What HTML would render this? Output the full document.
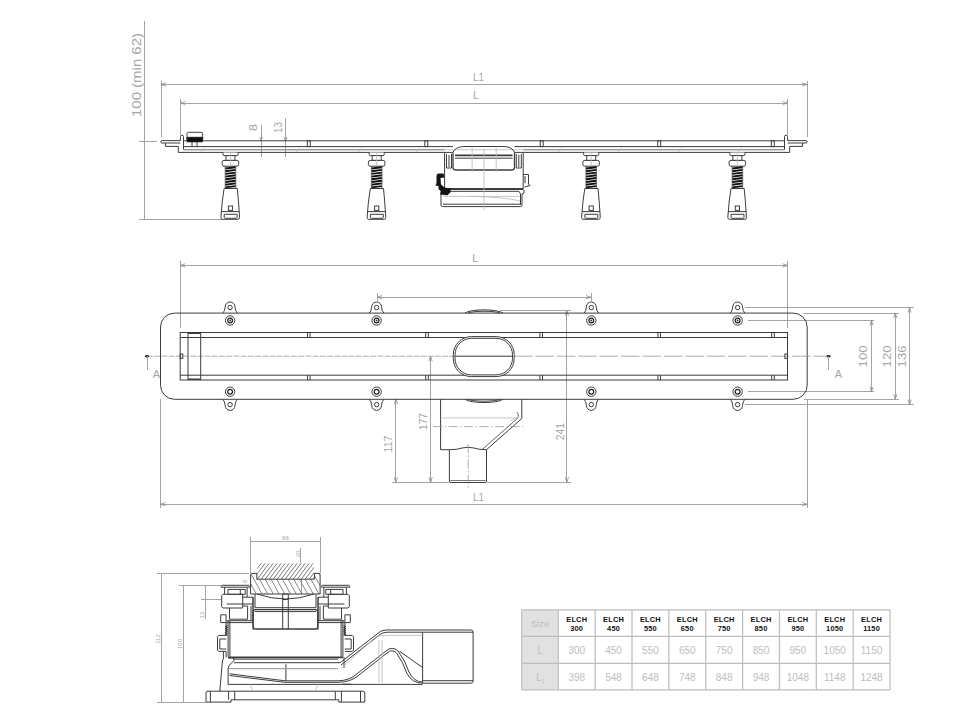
<!DOCTYPE html>
<html><head><meta charset="utf-8"><style>
html,body{margin:0;padding:0;background:#fff;}
body{width:980px;height:717px;overflow:hidden;}
svg{display:block;font-family:"Liberation Sans",sans-serif;}
.d{stroke:#3c3c3c;stroke-width:1;}
.m{stroke:#a4a4a4;stroke-width:1;shape-rendering:crispEdges;}
.ar{stroke:#8a8a8a;stroke-width:0.8;fill:none;}
.lg{stroke:#b8b8b8;stroke-width:0.8;}
.cl{stroke:#8c8c8c;stroke-width:0.7;stroke-dasharray:18.6 2.8;}
.cl3{stroke:#8c8c8c;stroke-width:0.7;stroke-dasharray:6 1.2;}
.cl2{stroke:#8c8c8c;stroke-width:0.7;stroke-dasharray:9 2.5 1.5 2.5;}
.t{fill:#a6a6a6;}
.tt{fill:#bdbdbd;}
.hb{fill:#111;font-weight:bold;font-size:7.4px;letter-spacing:0.2px;}
</style></head><body>
<svg width="980" height="717" viewBox="0 0 980 717">
<g class="m">
<line x1="144.6" y1="21" x2="144.6" y2="219.5"/>
<line x1="139" y1="141" x2="157" y2="141"/>
<line x1="139" y1="219.5" x2="222" y2="219.5"/>
<line x1="161" y1="84.5" x2="807" y2="84.5"/>
<line x1="161" y1="80.5" x2="161" y2="137"/>
<line x1="807" y1="80.5" x2="807" y2="137"/>
<line x1="180.5" y1="103" x2="787.5" y2="103"/>
<line x1="180.5" y1="99" x2="180.5" y2="135"/>
<line x1="787.5" y1="99" x2="787.5" y2="135"/>
<line x1="261" y1="124.5" x2="261" y2="157"/>
<line x1="285.6" y1="117.5" x2="285.6" y2="157"/>
</g>
<g class="ar">
<path d="M161,84.5 l5,-1.6 M161,84.5 l5,1.6"/>
<path d="M807,84.5 l-5,-1.6 M807,84.5 l-5,1.6"/>
<path d="M180.5,103 l5,-1.6 M180.5,103 l5,1.6"/>
<path d="M787.5,103 l-5,-1.6 M787.5,103 l-5,1.6"/>
<path d="M261,141 l-1.4,-4 M261,141 l1.4,-4"/>
<path d="M285.6,141 l-1.4,-4 M285.6,141 l1.4,-4"/>
</g>
<text class="t" x="0" y="0" font-size="12.2" transform="translate(141.4,117) rotate(-90)" textLength="84" lengthAdjust="spacingAndGlyphs">100 (min 62)</text>
<text class="t" x="473" y="80.8" font-size="10.8" textLength="11" lengthAdjust="spacingAndGlyphs">L1</text>
<text class="t" x="473" y="98.8" font-size="10.8">L</text>
<text class="t" font-size="10.5" transform="translate(257.2,131) rotate(-90)" textLength="7" lengthAdjust="spacingAndGlyphs">8</text>
<text class="t" font-size="10.5" transform="translate(282,133) rotate(-90)" textLength="11" lengthAdjust="spacingAndGlyphs">13</text>
<g class="d">
<line x1="183.5" y1="140.8" x2="784.5" y2="140.8"/>
<line x1="183.5" y1="146.6" x2="453" y2="146.6"/>
<line x1="514.5" y1="146.6" x2="784.5" y2="146.6"/>
<line x1="178.3" y1="152.4" x2="444.6" y2="152.4"/>
<line x1="523.2" y1="152.4" x2="789.7" y2="152.4"/>
<path d="M178.3,152.4 V146.4 H165.4 V143 H162 Q160.8,143 160.8,141.8 Q160.8,140.6 162,140.6 H180.4 V136.5 Q180.4,135.3 182,135.3 Q183.5,135.3 183.5,136.5 V149.7 H444.6" fill="none"/>
<path d="M789.7,152.4 V146.4 H802.6 V143 H806 Q807.2,143 807.2,141.8 Q807.2,140.6 806,140.6 H787.6 V136.5 Q787.6,135.3 786,135.3 Q784.5,135.3 784.5,136.5 V149.7 H523.4" fill="none"/>
</g>
<path class="d" fill="none" d="M165.4,143 H180.4 M802.6,143 H787.6"/>
<line class="lg" x1="183.5" y1="149.7" x2="784.5" y2="149.7"/>
<rect class="d" x="307.3" y="140.8" width="3" height="5.8" fill="none"/>
<rect class="d" x="424.8" y="140.8" width="3" height="5.8" fill="none"/>
<rect class="d" x="540.2" y="140.8" width="3" height="5.8" fill="none"/>
<rect class="d" x="657.7" y="140.8" width="3" height="5.8" fill="none"/>
<rect class="d" x="771.3" y="140.8" width="3" height="5.8" fill="none"/>
<line class="lg" x1="201" y1="152" x2="205" y2="147.5"/>
<line class="lg" x1="296" y1="152" x2="300" y2="147.5"/>
<line class="lg" x1="358" y1="152" x2="362" y2="147.5"/>
<line class="lg" x1="416" y1="152" x2="420" y2="147.5"/>
<line class="lg" x1="618" y1="152" x2="622" y2="147.5"/>
<line class="lg" x1="678" y1="152" x2="682" y2="147.5"/>
<line class="lg" x1="738" y1="152" x2="742" y2="147.5"/>
<line class="lg" x1="558" y1="152" x2="562" y2="147.5"/>
<rect class="d" x="187" y="132.3" width="15.6" height="5" rx="1.5" fill="#fff"/>
<path d="M186,137.3 H203.5 L202.5,142.2 H187 Z" fill="#111"/>
<path class="d" d="M192,142 V146.4 M197,142 V146.4" fill="none"/>
<g class="d" fill="#fff">
<path d="M223,152.4 V154.6 Q223,155.6 224,155.6 H237 Q238,155.6 238,154.6 V152.4"/>
<rect x="226" y="155.6" width="9" height="4.8"/>
<rect x="222.2" y="160.4" width="16.5" height="5.8" rx="1.8"/>
<path d="M224.1,188.5 H237.3 Q238.5,200 239.5,216 V217.6 Q239.5,219.3 238,219.3 H222.5 Q221,219.3 221,217.6 V216 Q222.1,200 224.1,188.5 Z"/>
<path d="M224.2,214.3 H237.1 V217.4 Q237.1,218.3 236.1,218.3 H225.2 Q224.2,218.3 224.2,217.4 Z"/>
<rect x="228.4" y="206" width="4.2" height="4.4"/>
<line x1="221.4" y1="211.6" x2="239.2" y2="211.6"/>
</g>
<path d="M225.3,168.5 L235.7,167.2 M225.3,171.2 L235.7,169.9 M225.3,173.9 L235.7,172.6 M225.3,176.6 L235.7,175.3 M225.3,179.3 L235.7,178 M225.3,182 L235.7,180.7 M225.3,184.7 L235.7,183.4 M225.3,187.4 L235.7,186.1" stroke="#111" stroke-width="1.9" fill="none"/>
<path d="M225.2,166 V188 M235.8,166 V188" stroke="#444" stroke-width="0.7"/>
<line class="lg" x1="230.5" y1="152.5" x2="230.5" y2="166" stroke-width="0.5"/>
<g class="d" fill="#fff">
<path d="M369.2,152.4 V154.6 Q369.2,155.6 370.2,155.6 H383.2 Q384.2,155.6 384.2,154.6 V152.4"/>
<rect x="372.2" y="155.6" width="9" height="4.8"/>
<rect x="368.4" y="160.4" width="16.5" height="5.8" rx="1.8"/>
<path d="M370.3,188.5 H383.5 Q384.7,200 385.7,216 V217.6 Q385.7,219.3 384.2,219.3 H368.7 Q367.2,219.3 367.2,217.6 V216 Q368.3,200 370.3,188.5 Z"/>
<path d="M370.4,214.3 H383.3 V217.4 Q383.3,218.3 382.3,218.3 H371.4 Q370.4,218.3 370.4,217.4 Z"/>
<rect x="374.6" y="206" width="4.2" height="4.4"/>
<line x1="367.6" y1="211.6" x2="385.4" y2="211.6"/>
</g>
<path d="M371.5,168.5 L381.9,167.2 M371.5,171.2 L381.9,169.9 M371.5,173.9 L381.9,172.6 M371.5,176.6 L381.9,175.3 M371.5,179.3 L381.9,178 M371.5,182 L381.9,180.7 M371.5,184.7 L381.9,183.4 M371.5,187.4 L381.9,186.1" stroke="#111" stroke-width="1.9" fill="none"/>
<path d="M371.4,166 V188 M382,166 V188" stroke="#444" stroke-width="0.7"/>
<line class="lg" x1="376.7" y1="152.5" x2="376.7" y2="166" stroke-width="0.5"/>
<g class="d" fill="#fff">
<path d="M583.7,152.4 V154.6 Q583.7,155.6 584.7,155.6 H597.7 Q598.7,155.6 598.7,154.6 V152.4"/>
<rect x="586.7" y="155.6" width="9" height="4.8"/>
<rect x="582.9" y="160.4" width="16.5" height="5.8" rx="1.8"/>
<path d="M584.8,188.5 H598 Q599.2,200 600.2,216 V217.6 Q600.2,219.3 598.7,219.3 H583.2 Q581.7,219.3 581.7,217.6 V216 Q582.8,200 584.8,188.5 Z"/>
<path d="M584.9,214.3 H597.8 V217.4 Q597.8,218.3 596.8,218.3 H585.9 Q584.9,218.3 584.9,217.4 Z"/>
<rect x="589.1" y="206" width="4.2" height="4.4"/>
<line x1="582.1" y1="211.6" x2="599.9" y2="211.6"/>
</g>
<path d="M586,168.5 L596.4,167.2 M586,171.2 L596.4,169.9 M586,173.9 L596.4,172.6 M586,176.6 L596.4,175.3 M586,179.3 L596.4,178 M586,182 L596.4,180.7 M586,184.7 L596.4,183.4 M586,187.4 L596.4,186.1" stroke="#111" stroke-width="1.9" fill="none"/>
<path d="M585.9,166 V188 M596.5,166 V188" stroke="#444" stroke-width="0.7"/>
<line class="lg" x1="591.2" y1="152.5" x2="591.2" y2="166" stroke-width="0.5"/>
<g class="d" fill="#fff">
<path d="M729.9,152.4 V154.6 Q729.9,155.6 730.9,155.6 H743.9 Q744.9,155.6 744.9,154.6 V152.4"/>
<rect x="732.9" y="155.6" width="9" height="4.8"/>
<rect x="729.1" y="160.4" width="16.5" height="5.8" rx="1.8"/>
<path d="M731,188.5 H744.2 Q745.4,200 746.4,216 V217.6 Q746.4,219.3 744.9,219.3 H729.4 Q727.9,219.3 727.9,217.6 V216 Q729,200 731,188.5 Z"/>
<path d="M731.1,214.3 H744 V217.4 Q744,218.3 743,218.3 H732.1 Q731.1,218.3 731.1,217.4 Z"/>
<rect x="735.3" y="206" width="4.2" height="4.4"/>
<line x1="728.3" y1="211.6" x2="746.1" y2="211.6"/>
</g>
<path d="M732.2,168.5 L742.6,167.2 M732.2,171.2 L742.6,169.9 M732.2,173.9 L742.6,172.6 M732.2,176.6 L742.6,175.3 M732.2,179.3 L742.6,178 M732.2,182 L742.6,180.7 M732.2,184.7 L742.6,183.4 M732.2,187.4 L742.6,186.1" stroke="#111" stroke-width="1.9" fill="none"/>
<path d="M732.1,166 V188 M742.7,166 V188" stroke="#444" stroke-width="0.7"/>
<line class="lg" x1="737.4" y1="152.5" x2="737.4" y2="166" stroke-width="0.5"/>
<g class="d" fill="none">
<path d="M453,152.4 Q455,147 463.7,146.5 H504 Q512.5,147 514.5,152.4"/>
<path d="M444.6,152.4 V189 M523.2,152.4 V189"/>
<path d="M444.6,152.4 H453 M514.5,152.4 H523.2"/>
<path d="M446.5,154 V168 H451.5 V154 M449,155 V167"/>
<path d="M521.3,154 V168 H516.3 V154 M518.8,155 V167"/>
<path d="M453,152.4 V167.5 Q453,170 456,170 H511.5 Q514.5,170 514.5,167.5 V152.4" stroke-width="1.3"/>
<path d="M455,155.4 H512.5" stroke-width="1.6"/><path d="M455,158.2 H512.5" />
<path d="M444.6,189 H523.2" stroke-width="1.8"/>
<path d="M441,191.3 V205 Q441,206.6 442.5,206.6 H520.5 Q522,206.6 522,205 V194 L524,193 V190.5 H523.2"/>
<path d="M441,191.3 H519 L520.5,194 V205"/>
<path d="M443,204.2 H520"/>
<path d="M523.2,174.5 H528.5 V184 L530,185.5 L524.5,187 "/>
<path d="M525,176 V183"/>
</g>
<path class="lg" d="M443,196.4 H520 M472.1,146.5 V172 M496.2,146.5 V172 M483.9,149 V210" fill="none"/>
<path class="lg" d="M470,196.4 Q505,197 520,201" fill="none"/>
<path d="M443.5,173.5 H438.5 Q436.5,173.5 436.5,176 V183 L435.5,185.5 L438.5,186 V189 L441,191.5 L440,194.5 L447.5,195.3 L450.8,192 L450.3,188.6 L444.5,187.5 L441,184.5 L440.5,178 L444.5,177.5 Z" fill="#141414"/>
<g class="m">
<line x1="180.2" y1="265.4" x2="787.5" y2="265.4"/>
<line x1="180.2" y1="261" x2="180.2" y2="328"/>
<line x1="787.5" y1="261" x2="787.5" y2="328"/>
<line x1="377" y1="297.2" x2="591" y2="297.2"/>
<line x1="377" y1="293" x2="377" y2="301"/>
<line x1="591" y1="293" x2="591" y2="301"/>
<line x1="160.5" y1="504.2" x2="807.2" y2="504.2"/>
<line x1="160.5" y1="399.3" x2="160.5" y2="508"/>
<line x1="807.2" y1="399.3" x2="807.2" y2="508"/>
<line x1="566.9" y1="310.8" x2="566.9" y2="482.3"/>
<line x1="499.5" y1="310.8" x2="570.8" y2="310.8"/>
<line x1="430.6" y1="356.2" x2="430.6" y2="482.3"/>
<line x1="395.9" y1="399.3" x2="395.9" y2="482.3"/>
<line x1="392" y1="482.3" x2="449" y2="482.3"/>
<line x1="487" y1="482.3" x2="571" y2="482.3"/>
<line x1="747.9" y1="320.4" x2="874.3" y2="320.4"/>
<line x1="747.9" y1="391.8" x2="874.3" y2="391.8"/>
<line x1="871.5" y1="320.4" x2="871.5" y2="391.8"/>
<line x1="803.6" y1="313.1" x2="899" y2="313.1"/>
<line x1="803.6" y1="399.3" x2="899" y2="399.3"/>
<line x1="895.3" y1="313.1" x2="895.3" y2="399.3"/>
<line x1="745.3" y1="307.6" x2="913.9" y2="307.6"/>
<line x1="745.3" y1="404.6" x2="913.9" y2="404.6"/>
<line x1="909.6" y1="307.6" x2="909.6" y2="404.6"/>
</g>
<path class="ar" d="M180.2,265.4 l5,-1.6 M180.2,265.4 l5,1.6 M787.5,265.4 l-5,-1.6 M787.5,265.4 l-5,1.6 M160.5,504.2 l5,-1.6 M160.5,504.2 l5,1.6 M807.2,504.2 l-5,-1.6 M807.2,504.2 l-5,1.6 M377,297.2 l5,-1.6 M377,297.2 l5,1.6 M591,297.2 l-5,-1.6 M591,297.2 l-5,1.6 M566.9,310.8 l-1.6,5 M566.9,310.8 l1.6,5 M566.9,482.3 l-1.6,-5 M566.9,482.3 l1.6,-5 M430.6,356.2 l-1.6,5 M430.6,356.2 l1.6,5 M430.6,482.3 l-1.6,-5 M430.6,482.3 l1.6,-5 M395.9,399.3 l-1.6,5 M395.9,399.3 l1.6,5 M395.9,482.3 l-1.6,-5 M395.9,482.3 l1.6,-5 M871.5,320.4 l-1.6,5 M871.5,320.4 l1.6,5 M871.5,391.8 l-1.6,-5 M871.5,391.8 l1.6,-5 M895.3,313.1 l-1.6,5 M895.3,313.1 l1.6,5 M895.3,399.3 l-1.6,-5 M895.3,399.3 l1.6,-5 M909.6,307.6 l-1.6,5 M909.6,307.6 l1.6,5 M909.6,404.6 l-1.6,-5 M909.6,404.6 l1.6,-5"/>
<text class="t" x="472.2" y="262" font-size="10.8">L</text>
<text class="t" x="473" y="500.5" font-size="10.8" textLength="11" lengthAdjust="spacingAndGlyphs">L1</text>
<text class="t" font-size="11" text-anchor="middle" transform="translate(391.8,444) rotate(-90)" textLength="17" lengthAdjust="spacingAndGlyphs">117</text>
<text class="t" font-size="11" text-anchor="middle" transform="translate(427.3,421.5) rotate(-90)" textLength="17" lengthAdjust="spacingAndGlyphs">177</text>
<text class="t" font-size="11" text-anchor="middle" transform="translate(563.6,431.7) rotate(-90)" textLength="17" lengthAdjust="spacingAndGlyphs">241</text>
<text class="t" font-size="11" text-anchor="middle" transform="translate(867,356.4) rotate(-90)" textLength="22" lengthAdjust="spacingAndGlyphs">100</text>
<text class="t" font-size="11" text-anchor="middle" transform="translate(890.7,356.4) rotate(-90)" textLength="22" lengthAdjust="spacingAndGlyphs">120</text>
<text class="t" font-size="11" text-anchor="middle" transform="translate(905.7,356.4) rotate(-90)" textLength="22" lengthAdjust="spacingAndGlyphs">136</text>
<rect class="d" x="160.5" y="313.1" width="646.7" height="86.2" rx="14" fill="none"/>
<line class="cl3" x1="147" y1="356.2" x2="454" y2="356.2"/>
<line class="cl" x1="514" y1="356.2" x2="828.6" y2="356.2"/>
<g class="d" fill="none">
<rect x="180.2" y="332.5" width="607.3" height="47.5"/>
<path d="M180.2,337.5 H787.5 M180.2,375.2 H787.5"/>
<path d="M188,332.5 V380 M200.7,332.5 V380"/>
<path d="M188,333.2 H200.7 M188,379.3 H200.7" stroke-width="1.6"/>
<rect x="180.2" y="354" width="2.6" height="4.4"/>
<rect x="784.9" y="354" width="2.6" height="4.4"/>
</g>
<path class="d" d="M307.5,332.5 V337.5 M310.1,332.5 V337.5 M307.5,375.2 V380 M310.1,375.2 V380 M425.7,332.5 V337.5 M428.3,332.5 V337.5 M425.7,375.2 V380 M428.3,375.2 V380 M539.9,332.5 V337.5 M542.5,332.5 V337.5 M539.9,375.2 V380 M542.5,375.2 V380 M657.9,332.5 V337.5 M660.5,332.5 V337.5 M657.9,375.2 V380 M660.5,375.2 V380 M771.7,332.5 V337.5 M774.3,332.5 V337.5 M771.7,375.2 V380 M774.3,375.2 V380"/>
<rect class="d" x="453.3" y="336.6" width="60.9" height="40" rx="18" fill="#fff"/>
<rect class="d" x="455" y="338.3" width="57.5" height="36.6" rx="16.5" fill="none"/>
<line class="d" x1="455" y1="356.2" x2="512.5" y2="356.2" stroke-width="0.8"/>
<path class="d" fill="none" d="M465,313.1 C470,308.8 498,308.8 503,313.1 M468,313.1 C473,310.6 495,310.6 500,313.1"/>
<path class="d" fill="none" d="M465,399.3 C470,403.6 498,403.6 503,399.3 M468,399.3 C473,401.8 495,401.8 500,399.3"/>
<path class="d" fill="none" d="M222.8,313.1 Q224.9,311.3 225.2,306.9 A4.9,4.9 0 0 1 235,306.9 Q235.3,311.3 237.4,313.1"/><circle class="d" cx="230.1" cy="307.6" r="2.2" fill="none" stroke-width="1.1"/>
<path class="d" fill="none" d="M222.8,399.3 Q224.9,401.1 225.2,405.5 A4.9,4.9 0 0 0 235,405.5 Q235.3,401.1 237.4,399.3"/><circle class="d" cx="230.1" cy="404.6" r="2.2" fill="none" stroke-width="1.1"/>
<circle class="d" cx="230.1" cy="320.5" r="4.7" fill="none"/><circle cx="230.1" cy="320.5" r="2.4" fill="none" stroke="#222" stroke-width="1.2"/><circle cx="230.1" cy="320.5" r="0.9" fill="#333"/>
<circle class="d" cx="230.1" cy="391.7" r="4.7" fill="none"/><circle cx="230.1" cy="391.7" r="2.4" fill="none" stroke="#222" stroke-width="1.2"/>
<path class="d" fill="none" d="M369.3,313.1 Q371.4,311.3 371.7,306.9 A4.9,4.9 0 0 1 381.5,306.9 Q381.8,311.3 383.9,313.1"/><circle class="d" cx="376.6" cy="307.6" r="2.2" fill="none" stroke-width="1.1"/>
<path class="d" fill="none" d="M369.3,399.3 Q371.4,401.1 371.7,405.5 A4.9,4.9 0 0 0 381.5,405.5 Q381.8,401.1 383.9,399.3"/><circle class="d" cx="376.6" cy="404.6" r="2.2" fill="none" stroke-width="1.1"/>
<circle class="d" cx="376.6" cy="320.5" r="4.7" fill="none"/><circle cx="376.6" cy="320.5" r="2.4" fill="none" stroke="#222" stroke-width="1.2"/><circle cx="376.6" cy="320.5" r="0.9" fill="#333"/>
<circle class="d" cx="376.6" cy="391.7" r="4.7" fill="none"/><circle cx="376.6" cy="391.7" r="2.4" fill="none" stroke="#222" stroke-width="1.2"/>
<path class="d" fill="none" d="M584,313.1 Q586.1,311.3 586.4,306.9 A4.9,4.9 0 0 1 596.2,306.9 Q596.5,311.3 598.6,313.1"/><circle class="d" cx="591.3" cy="307.6" r="2.2" fill="none" stroke-width="1.1"/>
<path class="d" fill="none" d="M584,399.3 Q586.1,401.1 586.4,405.5 A4.9,4.9 0 0 0 596.2,405.5 Q596.5,401.1 598.6,399.3"/><circle class="d" cx="591.3" cy="404.6" r="2.2" fill="none" stroke-width="1.1"/>
<circle class="d" cx="591.3" cy="320.5" r="4.7" fill="none"/><circle cx="591.3" cy="320.5" r="2.4" fill="none" stroke="#222" stroke-width="1.2"/><circle cx="591.3" cy="320.5" r="0.9" fill="#333"/>
<circle class="d" cx="591.3" cy="391.7" r="4.7" fill="none"/><circle cx="591.3" cy="391.7" r="2.4" fill="none" stroke="#222" stroke-width="1.2"/>
<path class="d" fill="none" d="M730.3,313.1 Q732.4,311.3 732.7,306.9 A4.9,4.9 0 0 1 742.5,306.9 Q742.8,311.3 744.9,313.1"/><circle class="d" cx="737.6" cy="307.6" r="2.2" fill="none" stroke-width="1.1"/>
<path class="d" fill="none" d="M730.3,399.3 Q732.4,401.1 732.7,405.5 A4.9,4.9 0 0 0 742.5,405.5 Q742.8,401.1 744.9,399.3"/><circle class="d" cx="737.6" cy="404.6" r="2.2" fill="none" stroke-width="1.1"/>
<circle class="d" cx="737.6" cy="320.5" r="4.7" fill="none"/><circle cx="737.6" cy="320.5" r="2.4" fill="none" stroke="#222" stroke-width="1.2"/><circle cx="737.6" cy="320.5" r="0.9" fill="#333"/>
<circle class="d" cx="737.6" cy="391.7" r="4.7" fill="none"/><circle cx="737.6" cy="391.7" r="2.4" fill="none" stroke="#222" stroke-width="1.2"/>
<ellipse cx="147" cy="356.2" rx="2.1" ry="1.3" fill="#222"/>
<line class="m" x1="147" y1="356.2" x2="147" y2="370"/>
<text class="t" x="156.3" y="378.4" font-size="11" text-anchor="middle">A</text>
<ellipse cx="828.6" cy="356.2" rx="2.1" ry="1.3" fill="#222"/>
<line class="m" x1="828.6" y1="356.2" x2="828.6" y2="370"/>
<text class="t" x="838.3" y="378.4" font-size="11" text-anchor="middle">A</text>
<g class="d" fill="none">
<path d="M440.6,399.3 V449.7 H449.4 M486.5,449.7 L521.8,418.5 V399.3"/>
<path d="M449.4,449.7 Q458,449.7 462,448 Q468,446.5 474,448 Q478,449.7 486.5,449.7"/>
<path d="M449.4,449.7 V481 Q449.4,482.5 451,482.5 H485 Q486.5,482.5 486.5,481 V449.7"/>
<path d="M450.5,480.5 H485.5" stroke-width="0.7"/>
<path d="M482,449.7 L516.8,419 Q519.5,416 518,413.5 L516.5,412.5" stroke-width="0.8"/>
</g>
<path class="lg" d="M440.6,417.9 H517 M510,421 L519,417" fill="none"/>
<line class="cl2" x1="433" y1="426.6" x2="523" y2="426.6"/>
<line class="cl2" x1="468.2" y1="444" x2="468.2" y2="490"/>
<g class="m">
<line x1="161" y1="573" x2="161" y2="702"/>
<line x1="157" y1="573" x2="249" y2="573"/>
<line x1="183.1" y1="585.5" x2="183.1" y2="702"/>
<line x1="179" y1="585.5" x2="221" y2="585.5"/>
<line x1="205.3" y1="585.5" x2="205.3" y2="618.6"/>
<line x1="201" y1="599" x2="221" y2="599"/>
<line x1="157" y1="702" x2="206" y2="702"/>
<line x1="250.3" y1="541" x2="320.7" y2="541"/>
<line x1="250.3" y1="537" x2="250.3" y2="573"/>
<line x1="320.7" y1="537" x2="320.7" y2="573"/>
<line x1="300.9" y1="548" x2="300.9" y2="562.6"/><line x1="301.3" y1="579.2" x2="301.3" y2="594"/>
</g>
<text class="t" font-size="6" text-anchor="middle" transform="translate(159.6,639) rotate(-90)">112</text>
<text class="t" font-size="6" text-anchor="middle" transform="translate(181.5,644) rotate(-90)">100</text>
<text class="t" font-size="6" text-anchor="middle" transform="translate(203.6,615) rotate(-90)">13</text>
<text class="t" font-size="6" text-anchor="middle" transform="translate(246.6,581.4) rotate(-90)">8</text>
<text class="t" font-size="6.2" text-anchor="middle" x="285.5" y="539.5">66</text>
<text class="t" font-size="6" text-anchor="middle" transform="translate(299.5,554) rotate(-90)">20</text>
<clipPath id="ctile"><rect x="257.2" y="563.2" width="56.8" height="15.9"/></clipPath>
<path d="M245.28,579.1 L257.2,563.2 M249.28,579.1 L261.2,563.2 M253.28,579.1 L265.2,563.2 M257.27,579.1 L269.2,563.2 M261.27,579.1 L273.2,563.2 M265.27,579.1 L277.2,563.2 M269.27,579.1 L281.2,563.2 M273.27,579.1 L285.2,563.2 M277.27,579.1 L289.2,563.2 M281.27,579.1 L293.2,563.2 M285.27,579.1 L297.2,563.2 M289.27,579.1 L301.2,563.2 M293.27,579.1 L305.2,563.2 M297.27,579.1 L309.2,563.2 M301.27,579.1 L313.2,563.2 M305.27,579.1 L317.2,563.2 M309.27,579.1 L321.2,563.2 M313.27,579.1 L325.2,563.2" stroke="#5a5a5a" stroke-width="0.8" clip-path="url(#ctile)"/>
<clipPath id="ctray"><path d="M250.6,594 V574.4 Q250.6,573.4 251.6,573.4 H256.8 V579.2 H314.4 V573.4 H319.1 Q320.1,573.4 320.1,574.4 V594 Z"/></clipPath>
<path d="M239.27,573.4 L250.6,594 M244.97,573.4 L256.3,594 M250.67,573.4 L262,594 M256.37,573.4 L267.7,594 M262.07,573.4 L273.4,594 M267.77,573.4 L279.1,594 M273.47,573.4 L284.8,594 M279.17,573.4 L290.5,594 M284.87,573.4 L296.2,594 M290.57,573.4 L301.9,594 M296.27,573.4 L307.6,594 M301.97,573.4 L313.3,594 M307.67,573.4 L319,594 M313.37,573.4 L324.7,594 M319.07,573.4 L330.4,594" stroke="#555" stroke-width="0.7" clip-path="url(#ctray)"/>
<path class="d" fill="none" stroke-width="1.3" d="M250.6,594 V574.4 Q250.6,573.4 251.6,573.4 H256.8 V579.2 H314.4 V573.4 H319.1 Q320.1,573.4 320.1,574.4 V594 Z"/>
<g class="d" fill="none">
<path d="M257,594 Q285.5,604 314,594"/>
<path d="M255,594 V607.7 H316 V594"/>
<rect x="282.7" y="594" width="5.6" height="5.5"/>
<path d="M282.7,599.5 V629 M288.3,599.5 V629"/>
<rect x="253.2" y="609.6" width="64.6" height="19.4" rx="2.5" stroke-width="1.3"/>
<path d="M255,611.6 H316"/>
<path d="M221.2,587.2 V586.2 L222.2,585.3 H248.8 L249.6,586.2 V587.2 Z M224.6,587.2 V594.3 M247.1,587.2 V597.2 H253 V604 M228,589.4 H245.2 V594.3 H228 Z M240.3,589.4 V594.3 M222.9,594.3 H242.7 V608 H222.9 L221.7,606.8 V595.5 Z M242.7,597.2 H247.1 M226.6,604 H253 V620.7 H226.6 M229.5,608 V619.2 H247.6 V606 H242.7 M251,606 V620.7 M226.1,614.8 H220.7 V622.6 H226.1 Z M226.1,622.6 V635.4 M228.1,620.7 V656.8 M229.9,620.7 V656.8 M226.1,622.6 H253.2 M253,597 V630 M226.1,651.4 H218.8 L217.5,650 V636.8 L218.8,635.4 H226.1 M226.3,639 H219.8 V649 H226.3 M223.4,651.4 V659 L222.5,660 L219.8,691.2 M228.1,658 H233.5 L234,660.5 L229.5,665 L228.1,668 V684.6 M226.1,651.4 V657.5"/>
<path d="M349.8,587.2 V586.2 L348.8,585.3 H322.2 L321.4,586.2 V587.2 Z M346.4,587.2 V594.3 M323.9,587.2 V597.2 H318 V604 M343,589.4 H325.8 V594.3 H343 Z M330.7,589.4 V594.3 M348.1,594.3 H328.3 V608 H348.1 L349.3,606.8 V595.5 Z M328.3,597.2 H323.9 M344.4,604 H318 V620.7 H344.4 M341.5,608 V619.2 H323.4 V606 H328.3 M320,606 V620.7 M344.9,614.8 H350.3 V622.6 H344.9 Z M344.9,622.6 V635.4 M342.9,620.7 V656.8 M341.1,620.7 V656.8 M344.9,622.6 H317.8 M318,597 V630 M344.9,651.4 H352.2 L353.5,650 V636.8 L352.2,635.4 H344.9 M344.7,639 H351.2 V649 H344.7"/>
<path d="M228.1,657.3 H342.9" stroke-width="1.8"/>
<path d="M233.5,659.1 H338 M234,662.7 H340"/>
<path d="M229.5,668.6 H338"/>
<path d="M227.4,625.5 L225.2,626.5 L227.4,627.5 M227.4,627.5 L225.2,628.5 L227.4,629.5 M227.4,629.5 L225.2,630.5 L227.4,631.5 M227.4,631.5 L225.2,632.5 L227.4,633.5 M227.4,633.5 L225.2,634.5 L227.4,635.5 M343.6,625.5 L345.8,626.5 L343.6,627.5 M343.6,627.5 L345.8,628.5 L343.6,629.5 M343.6,629.5 L345.8,630.5 L343.6,631.5 M343.6,631.5 L345.8,632.5 L343.6,633.5 M343.6,633.5 L345.8,634.5 L343.6,635.5" stroke="#222" stroke-width="0.9"/>
<path d="M229.5,673.8 L285,680.8 H338 Q350,680.8 358,673 L386,651 Q392,645.5 398,651 Q405,660 409,672 Q414,682 422.6,682"/>
<path d="M229.5,675.5 L285,682.3 H338 Q351,682.3 359,675 L387,653 Q392,648.5 396.5,653 Q403,662 407,673.5 Q412,683.2 422.6,683.2"/>
<path d="M228.1,684.4 H422.6"/>
<path d="M285.9,664.3 V681"/>
<path d="M340,662.8 L377,634 Q381,630 386,630 H471 Q473.1,630 473.1,632 V681.2 Q473.1,683.2 471,683.2 H422.6"/>
<path d="M341,665 L378,636 Q382,632.2 387,632.2 H473.1 M422.6,680.7 H473.1"/>
<path d="M422.6,632.2 V683.2"/>
<path d="M399.6,651.3 L422.6,667.6"/>
<path d="M206,702.1 V693 Q206,691.2 208,691.2 H362.8 Q364.8,691.2 364.8,693 V702.1 H338.8 V699.8 H231 V702.1 Z"/>
<path d="M210.4,691.2 V702 M228.6,691.2 V699.8 M234.7,691.2 V699.8 M335.3,691.2 V699.8 M341.4,691.2 V702 M360.5,691.2 V702"/>
<path d="M344,657 V668 M342,684.2 L351,684.2" />
</g>
<path class="lg" fill="none" d="M340.7,669 L376,636.5 Q380,635.3 391,635.3 H422.6 M379,640 V683 M382,640 V683 M250,684.5 L253,691 M318,684.5 L315,691 M230,668.5 H338"/>
<rect x="521.7" y="609.8" width="36.6" height="80" fill="#e1e1e1"/>
<path d="M521.7,609.8 H890 M521.7,636.3 H890 M521.7,663.3 H890 M521.7,689.8 H890 M521.7,609.8 V689.8 M558.3,609.8 V689.8 M595.16,609.8 V689.8 M632.01,609.8 V689.8 M668.87,609.8 V689.8 M705.72,609.8 V689.8 M742.58,609.8 V689.8 M779.43,609.8 V689.8 M816.29,609.8 V689.8 M853.14,609.8 V689.8 M890,609.8 V689.8" stroke="#bdbdbd" stroke-width="1.2" fill="none"/>
<text class="tt" x="540" y="627.4" text-anchor="middle" font-size="9.6" fill="#c6c6c6">Size</text>
<text class="tt" x="540.3" y="654.3" text-anchor="middle" font-size="10" fill="#c6c6c6">L</text>
<text class="tt" x="540.3" y="680.7" text-anchor="middle" font-size="10" fill="#c6c6c6">L<tspan font-size="5" dy="2">1</tspan></text>
<text class="hb" x="576.73" y="622.3" text-anchor="middle">ELCH</text>
<text class="hb" x="576.73" y="630.6" text-anchor="middle">300</text>
<text class="tt" x="576.73" y="654.4" text-anchor="middle" font-size="10">300</text>
<text class="tt" x="576.73" y="680.7" text-anchor="middle" font-size="10">398</text>
<text class="hb" x="613.58" y="622.3" text-anchor="middle">ELCH</text>
<text class="hb" x="613.58" y="630.6" text-anchor="middle">450</text>
<text class="tt" x="613.58" y="654.4" text-anchor="middle" font-size="10">450</text>
<text class="tt" x="613.58" y="680.7" text-anchor="middle" font-size="10">548</text>
<text class="hb" x="650.44" y="622.3" text-anchor="middle">ELCH</text>
<text class="hb" x="650.44" y="630.6" text-anchor="middle">550</text>
<text class="tt" x="650.44" y="654.4" text-anchor="middle" font-size="10">550</text>
<text class="tt" x="650.44" y="680.7" text-anchor="middle" font-size="10">648</text>
<text class="hb" x="687.29" y="622.3" text-anchor="middle">ELCH</text>
<text class="hb" x="687.29" y="630.6" text-anchor="middle">650</text>
<text class="tt" x="687.29" y="654.4" text-anchor="middle" font-size="10">650</text>
<text class="tt" x="687.29" y="680.7" text-anchor="middle" font-size="10">748</text>
<text class="hb" x="724.15" y="622.3" text-anchor="middle">ELCH</text>
<text class="hb" x="724.15" y="630.6" text-anchor="middle">750</text>
<text class="tt" x="724.15" y="654.4" text-anchor="middle" font-size="10">750</text>
<text class="tt" x="724.15" y="680.7" text-anchor="middle" font-size="10">848</text>
<text class="hb" x="761.01" y="622.3" text-anchor="middle">ELCH</text>
<text class="hb" x="761.01" y="630.6" text-anchor="middle">850</text>
<text class="tt" x="761.01" y="654.4" text-anchor="middle" font-size="10">850</text>
<text class="tt" x="761.01" y="680.7" text-anchor="middle" font-size="10">948</text>
<text class="hb" x="797.86" y="622.3" text-anchor="middle">ELCH</text>
<text class="hb" x="797.86" y="630.6" text-anchor="middle">950</text>
<text class="tt" x="797.86" y="654.4" text-anchor="middle" font-size="10">950</text>
<text class="tt" x="797.86" y="680.7" text-anchor="middle" font-size="10">1048</text>
<text class="hb" x="834.72" y="622.3" text-anchor="middle">ELCH</text>
<text class="hb" x="834.72" y="630.6" text-anchor="middle">1050</text>
<text class="tt" x="834.72" y="654.4" text-anchor="middle" font-size="10">1050</text>
<text class="tt" x="834.72" y="680.7" text-anchor="middle" font-size="10">1148</text>
<text class="hb" x="871.57" y="622.3" text-anchor="middle">ELCH</text>
<text class="hb" x="871.57" y="630.6" text-anchor="middle">1150</text>
<text class="tt" x="871.57" y="654.4" text-anchor="middle" font-size="10">1150</text>
<text class="tt" x="871.57" y="680.7" text-anchor="middle" font-size="10">1248</text>
</svg>
</body></html>
